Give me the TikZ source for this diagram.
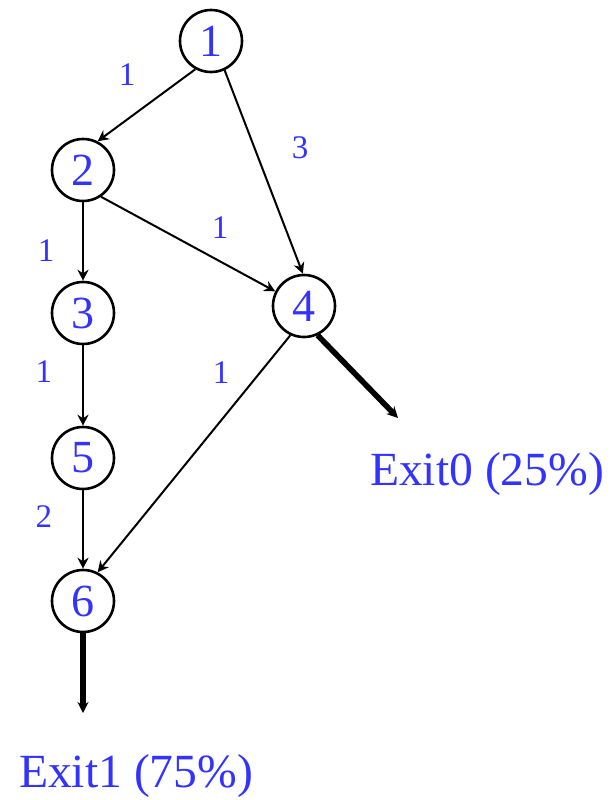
\documentclass[tikz,border=0pt]{standalone}
\usepackage{fontspec}
\setmainfont{Liberation Serif}
\usetikzlibrary{arrows.meta}
\definecolor{numblue}{RGB}{51,51,255}

\begin{document}
\begin{tikzpicture}[x=0.5pt, y=-0.5pt, >={Stealth[length=5.5pt,width=5.5pt]},
		vertex/.style={draw, circle, line width=1.3pt, minimum size=31pt, inner sep=0pt,
			text=numblue, font=\fontsize{23}{26}\selectfont},
		wt/.style={text=numblue, font=\fontsize{16.5}{20}\selectfont},
		edge/.style={->, line width=1pt},
		exitedge/.style={->, line width=2.8pt},
		exitlabel/.style={text=numblue, font=\fontsize{23.8}{28}\selectfont}]
	\useasboundingbox (0,0) rectangle (614,800);
	
	% 1. 结点
	\node[vertex] (n1) at (211,41) {1};
	\node[vertex] (n2) at (83,170) {2};
	\node[vertex] (n3) at (83,313) {3};
	\node[vertex] (n4) at (304,306) {4};
	\node[vertex] (n5) at (83,458) {5};
	\node[vertex] (n6) at (83,601) {6};
	
	% 2. 边
	\draw[edge] (n1.-119) -- (n2.63);
	\draw[edge] (n1.-65) -- (n4.92);
	\draw[edge] (n2.-56) -- (n4.153);
	\draw[edge] (n2.south) -- (n3.north);
	\draw[edge] (n3.south) -- (n5.north);
	\draw[edge] (n5.south) -- (n6.north);
	\draw[edge] (n4.-115) -- (n6.63);
	
	% 3. 权值
	\node[wt] (w12) at (127,75) {1};
	\node[wt] (w14) at (300,148) {3};
	\node[wt] (w24) at (220,228) {1};
	\node[wt] (w23) at (46,251) {1};
	\node[wt] (w35) at (44,372) {1};
	\node[wt] (w46) at (221,373) {1};
	\node[wt] (w56) at (44,517) {2};
	
	% 4. 出口
	\coordinate (e0) at (398,418);
	\coordinate (e1) at (83,713);
	\draw[exitedge] (n4.-65) -- (e0);
	\draw[exitedge] (n6.south) -- (e1);
	\node[exitlabel] (exit0) at (487,474) {Exit0 (25\%)};
	\node[exitlabel] (exit1) at (136,776) {Exit1 (75\%)};
\end{tikzpicture}
\end{document}
